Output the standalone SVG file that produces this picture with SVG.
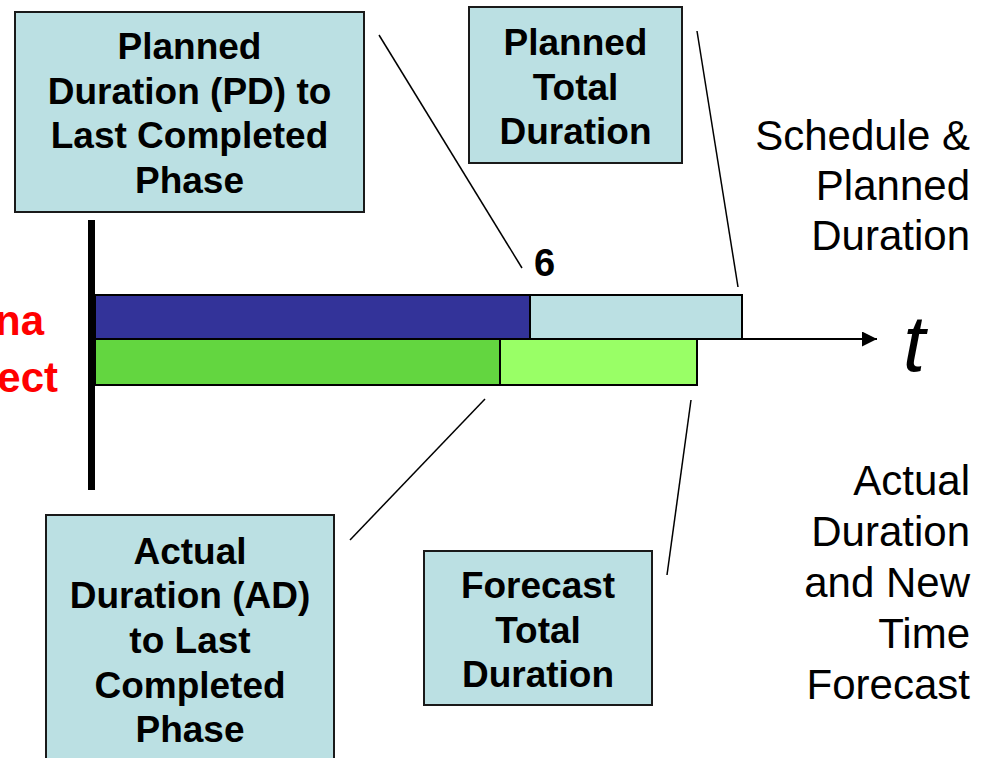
<svg xmlns="http://www.w3.org/2000/svg" width="984" height="758" viewBox="0 0 984 758">
  <defs>
    <marker id="arrowhead" markerUnits="userSpaceOnUse" markerWidth="16" markerHeight="16" refX="15" refY="7.5" orient="auto">
      <path d="M0,0 L15,7.5 L0,15 z" fill="#000"/>
    </marker>
    <style>
      .box { fill: #BBE0E3; stroke: #1a1a1a; stroke-width: 2; }
      .lbl { font-family: "Liberation Sans", Arial, sans-serif; font-weight: bold; font-size: 37px; fill: #000; text-anchor: middle; }
      .side { font-family: "Liberation Sans", Arial, sans-serif; font-size: 42px; fill: #000; text-anchor: end; }
      .red { font-family: "Liberation Sans", Arial, sans-serif; font-weight: bold; font-size: 42px; fill: #FF0000; text-anchor: end; }
      .bar { stroke: #000; stroke-width: 2; }
      .lead { stroke: #000; stroke-width: 1.5; fill: none; }
    </style>
  </defs>
  <rect width="984" height="758" fill="#fff"/>

  <!-- project title, partly off the left edge -->
  <g id="title">
    <text class="red" x="44" y="335">na</text>
    <text class="red" x="58" y="392">ect</text>
  </g>

  <!-- time axis: start bar and arrow -->
  <g id="axis">
    <rect x="88" y="220" width="7" height="270" fill="#000"/>
    <line x1="742" y1="339" x2="877" y2="339" stroke="#000" stroke-width="2" marker-end="url(#arrowhead)"/>
    <text x="903" y="371" font-family="Liberation Sans, Arial, sans-serif" font-style="italic" font-size="80" fill="#000">t</text>
  </g>

  <!-- planned schedule bar -->
  <g id="planned-bar">
    <rect class="bar" x="95" y="295" width="435" height="44" fill="#333399"/>
    <rect class="bar" x="530" y="295" width="212" height="44" fill="#BBE0E3"/>
    <text x="534" y="276" font-family="Liberation Sans, Arial, sans-serif" font-weight="bold" font-size="38" fill="#000">6</text>
  </g>

  <!-- actual / forecast bar -->
  <g id="actual-bar">
    <rect class="bar" x="95" y="339" width="405" height="46" fill="#63D640"/>
    <rect class="bar" x="500" y="339" width="197" height="46" fill="#99FF66"/>
  </g>

  <!-- callout boxes -->
  <g id="pd-box">
    <rect class="box" x="15" y="12" width="349" height="200"/>
    <text class="lbl" x="189.5" y="59">Planned</text>
    <text class="lbl" x="189.5" y="104">Duration (PD) to</text>
    <text class="lbl" x="189.5" y="148">Last Completed</text>
    <text class="lbl" x="189.5" y="193">Phase</text>
  </g>

  <g id="ptd-box">
    <rect class="box" x="469" y="7" width="213" height="156"/>
    <text class="lbl" x="575.5" y="55">Planned</text>
    <text class="lbl" x="575.5" y="100">Total</text>
    <text class="lbl" x="575.5" y="144">Duration</text>
  </g>

  <g id="ad-box">
    <rect class="box" x="46" y="515" width="288" height="260"/>
    <text class="lbl" x="190" y="564">Actual</text>
    <text class="lbl" x="190" y="608">Duration (AD)</text>
    <text class="lbl" x="190" y="653">to Last</text>
    <text class="lbl" x="190" y="698">Completed</text>
    <text class="lbl" x="190" y="742">Phase</text>
  </g>

  <g id="ftd-box">
    <rect class="box" x="424" y="551" width="228" height="154"/>
    <text class="lbl" x="538" y="598">Forecast</text>
    <text class="lbl" x="538" y="643">Total</text>
    <text class="lbl" x="538" y="687">Duration</text>
  </g>

  <!-- side captions -->
  <g id="schedule-caption">
    <text class="side" x="970" y="150">Schedule &amp;</text>
    <text class="side" x="970" y="200">Planned</text>
    <text class="side" x="970" y="250">Duration</text>
  </g>

  <g id="actual-caption">
    <text class="side" x="970" y="495">Actual</text>
    <text class="side" x="970" y="546">Duration</text>
    <text class="side" x="970" y="597">and New</text>
    <text class="side" x="970" y="648">Time</text>
    <text class="side" x="970" y="699">Forecast</text>
  </g>

  <!-- leader lines from boxes to bar ends -->
  <g id="connectors">
    <line class="lead" x1="379" y1="35" x2="522" y2="268"/>
    <line class="lead" x1="697" y1="31" x2="738" y2="287"/>
    <line class="lead" x1="485" y1="399" x2="350" y2="540"/>
    <line class="lead" x1="691" y1="400" x2="667" y2="575"/>
  </g>
</svg>
